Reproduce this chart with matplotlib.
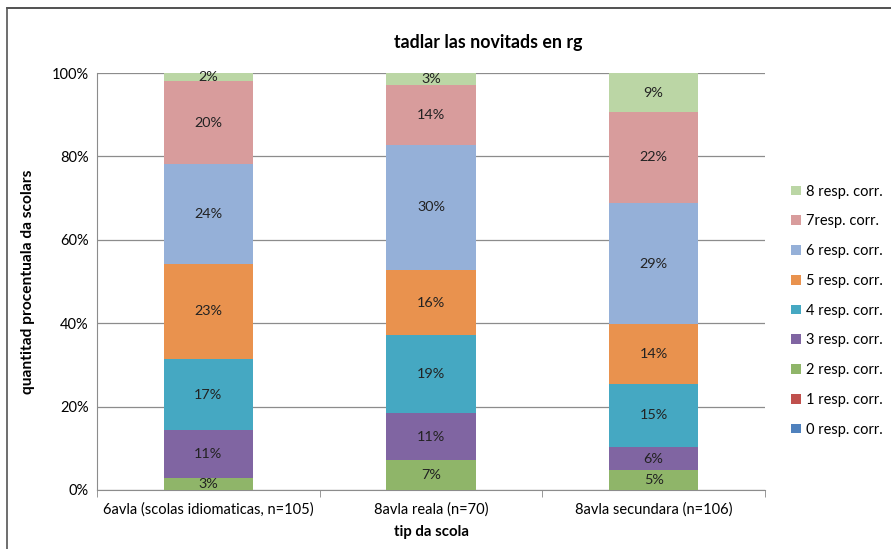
import matplotlib.pyplot as plt
import numpy as np

plt.rcParams['font.family'] = ['Lato', 'DejaVu Sans']

categories = ['6avla (scolas idiomaticas, n=105)', '8avla reala (n=70)', '8avla secundara (n=106)']
series_names = ['0 resp. corr.', '1 resp. corr.', '2 resp. corr.', '3 resp. corr.', '4 resp. corr.',
                '5 resp. corr.', '6 resp. corr.', '7resp. corr.', '8 resp. corr.']
# percentages per series, one value per school type
resp0 = [0.0, 0.0, 0.0]
resp1 = [0.0, 0.0, 0.0]
resp2 = [2.9, 7.1, 4.7]
resp3 = [11.4, 11.4, 5.7]
resp4 = [17.1, 18.6, 15.1]
resp5 = [22.9, 15.7, 14.2]
resp6 = [23.8, 30.0, 29.2]
resp7 = [20.0, 14.3, 21.7]
resp8 = [1.9, 2.9, 9.4]
colors = ['#4F81BD', '#C0504D', '#8FB569', '#8065A2', '#45A8C2', '#E9924E', '#95B0D8', '#D89C9C', '#BBD6A5']

values = [resp0, resp1, resp2, resp3, resp4, resp5, resp6, resp7, resp8]

fig = plt.figure(figsize=(8.91, 5.49), dpi=100)
ax = fig.add_axes([0.1089, 0.1075, 0.7497, 0.7595])

x = np.arange(len(categories))
bottom = np.zeros(len(categories))
for name, vals, col in zip(series_names, values, colors):
    vals = np.array(vals)
    ax.bar(x, vals, 0.4, bottom=bottom, color=col, label=name, zorder=3)
    for xi, v, b in zip(x, vals, bottom):
        if v > 0:
            ax.text(xi, b + v / 2, f'{round(v):d}%', ha='center', va='center',
                    fontsize=10.4, color='#222222', zorder=4)
    bottom += vals

ax.set_xlim(-0.5, 2.5)
ax.set_ylim(0, 100)
ax.set_yticks(range(0, 101, 20))
ax.set_yticklabels([f'{v}%' for v in range(0, 101, 20)], fontsize=10.5)
ax.set_xticks(x)
ax.set_xticklabels(categories, fontsize=10.5)
ax.tick_params(axis='x', length=0, pad=9)
ax.tick_params(axis='y', length=0, pad=6)
ax.set_xticks([-0.5, 0.5, 1.5, 2.5], minor=True)
ax.tick_params(axis='x', which='minor', length=5, color='#888888')
ax.yaxis.grid(True, color='#8c8c8c', linewidth=0.9, zorder=0)
for s in ['top', 'right']:
    ax.spines[s].set_visible(False)
for s in ['left', 'bottom']:
    ax.spines[s].set_color('#8c8c8c')

fig.text(0.548, 0.922, 'tadlar las novitads en rg', fontsize=12.8, fontweight='bold',
         ha='center', va='center')
ax.set_xlabel('tip da scola', fontsize=10.8, fontweight='bold', labelpad=6)
ax.set_ylabel('quantitad procentuala da scolars', fontsize=11.2, fontweight='bold', labelpad=12)

handles, labels = ax.get_legend_handles_labels()
ax.legend(handles[::-1], labels[::-1], loc='center left', bbox_to_anchor=(1.02, 0.43),
          frameon=False, fontsize=10.5, handlelength=0.65, handleheight=0.65,
          handletextpad=0.35, labelspacing=1.08)

# chart frame (top and left edges visible)
fig.add_artist(plt.Line2D([0.0075, 1], [0.985, 0.985], color='#333333', linewidth=1.2))
fig.add_artist(plt.Line2D([0.0075, 0.0075], [0, 0.985], color='#555555', linewidth=1.2))

fig.savefig('out.png', dpi=100)
